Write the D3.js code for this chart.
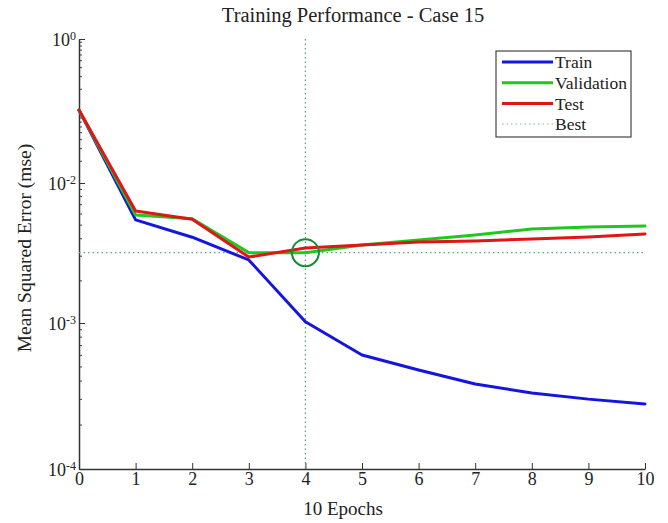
<!DOCTYPE html>
<meta charset="utf-8">
<style>
body { margin: 0; background: #fff; }
svg text { font-family: "Liberation Serif", "DejaVu Serif", serif; fill: #222; }
.axis path, .axis line { stroke: #333; }
.series { fill: none; stroke-width: 3px; stroke-linejoin: round; stroke-linecap: round; }
</style>
<svg width="668" height="523" font-family="Liberation Serif"></svg>
<script src="https://d3js.org/d3.v7.min.js"></script>
<script>

var epochs = [0, 1, 2, 3, 4, 5, 6, 7, 8, 9, 10];
var train = [0.103, 0.00545, 0.00410, 0.00282, 0.00102, 0.000604, 0.000476, 0.000382, 0.000332, 0.000301, 0.000279];
var validation = [0.103, 0.00590, 0.00556, 0.00318, 0.00318, 0.00361, 0.00392, 0.00425, 0.00469, 0.00485, 0.00493];
var test = [0.103, 0.00631, 0.00550, 0.00296, 0.00343, 0.00361, 0.00379, 0.00385, 0.00398, 0.00411, 0.00432];
var bestEpoch = 4, bestValue = 0.00318;
var yTickExp = [0, -2, -3, -4];
var legendNames = ["Train", "Validation", "Test", "Best"];
var colors = ["#1515e0", "#1ec81e", "#e01515", "#55aa77"];

var margin = {top: 39, right: 23, bottom: 54, left: 79},
    width = 668 - margin.left - margin.right,
    height = 523 - margin.top - margin.bottom;

var svg = d3.select("svg");
var g = svg.append("g").attr("transform", "translate(" + margin.left + "," + margin.top + ")");

var x = d3.scaleLinear().domain([0, 10]).range([0, width]);
// the picture's decades are not evenly spaced, so the log scale is piecewise
var y = d3.scaleLog().domain([1e-4, 1e-3, 1e-2, 1]).range([height, 284, 144, 0]);

// minor ticks on y
var minor = [];
[-4, -3, -2, -1].forEach(function(e) {
  for (var k = 2; k <= 9; k++) minor.push(k * Math.pow(10, e));
});
g.selectAll(".minor").data(minor).enter().append("line")
    .attr("x1", 0).attr("x2", 3)
    .attr("y1", function(d) { return y(d); }).attr("y2", function(d) { return y(d); })
    .attr("stroke", "#444").attr("stroke-width", 1);

// y axis
var yAxis = g.append("g").attr("class", "axis")
    .call(d3.axisLeft(y).tickValues(yTickExp.map(function(e) { return Math.pow(10, e); }))
      .tickSizeInner(-6).tickSizeOuter(0).tickFormat(""));
yAxis.attr("font-family", null);
yAxis.select(".domain").attr("stroke-width", 1.5);
yAxis.selectAll(".tick").append("text")
    .attr("x", -3).attr("dy", "0.35em").attr("text-anchor", "end")
    .style("font-size", "18px").attr("fill", "#222")
    .each(function(d) {
      var t = d3.select(this);
      t.append("tspan").text("10");
      t.append("tspan").attr("dy", "-0.5em").style("font-size", "12px")
        .text(Math.round(Math.log10(d)));
    });

// x axis
var xAxis = g.append("g").attr("class", "axis")
    .attr("transform", "translate(0," + height + ")")
    .call(d3.axisBottom(x).tickValues(epochs).tickSizeInner(-6).tickSizeOuter(0).tickPadding(3));
xAxis.attr("font-family", null);
xAxis.select(".domain").attr("stroke-width", 1.5);
xAxis.selectAll(".tick text").style("font-size", "18px").attr("fill", "#222");

// best markers
g.append("line")
    .attr("x1", x(bestEpoch)).attr("x2", x(bestEpoch)).attr("y1", 0).attr("y2", height)
    .attr("stroke", colors[3]).attr("stroke-width", 1.3).attr("stroke-dasharray", "1.5,3");
g.append("line")
    .attr("x1", 0).attr("x2", width).attr("y1", y(bestValue)).attr("y2", y(bestValue))
    .attr("stroke", colors[3]).attr("stroke-width", 1.3).attr("stroke-dasharray", "1.5,3");

var line = d3.line()
    .x(function(d, i) { return x(epochs[i]); })
    .y(function(d) { return y(d); });

[train, validation, test].forEach(function(s, i) {
  g.append("path").datum(s).attr("class", "series")
      .attr("stroke", colors[i]).attr("d", line);
});

g.append("circle")
    .attr("cx", x(bestEpoch)).attr("cy", y(bestValue)).attr("r", 13.5)
    .attr("fill", "none").attr("stroke", "#1a8a3a").attr("stroke-width", 2);

// title and labels
svg.append("text").attr("x", 353).attr("y", 22)
    .attr("text-anchor", "middle").style("font-size", "20.5px")
    .text("Training Performance - Case 15");
svg.append("text").attr("x", 343).attr("y", 515)
    .attr("text-anchor", "middle").style("font-size", "19px")
    .text("10 Epochs");
svg.append("text")
    .attr("transform", "translate(31,248) rotate(-90)")
    .attr("text-anchor", "middle").style("font-size", "19.5px")
    .text("Mean Squared Error (mse)");

// legend
var lg = svg.append("g").attr("transform", "translate(496,51)");
lg.append("rect").attr("width", 135).attr("height", 86)
    .attr("fill", "#fff").attr("stroke", "#444").attr("stroke-width", 1.2);
legendNames.forEach(function(name, i) {
  var yy = 11 + i * 20.7;
  lg.append("line").attr("x1", 6).attr("x2", 57).attr("y1", yy).attr("y2", yy)
      .attr("stroke", i < 3 ? colors[i] : "#9cc9a8")
      .attr("stroke-width", i < 3 ? 3 : 1.3)
      .attr("stroke-dasharray", i < 3 ? null : "1.5,3");
  lg.append("text").attr("x", 59).attr("y", yy).attr("dy", "0.35em")
      .style("font-size", "17.5px").text(name);
});

</script>
